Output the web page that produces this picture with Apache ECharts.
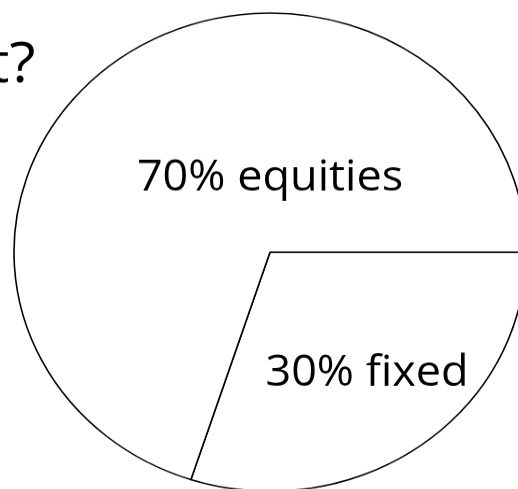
<!DOCTYPE html>
<html>
<head>
<meta charset="utf-8">
<script src="https://cdn.jsdelivr.net/npm/echarts@6/dist/echarts.min.js"></script>
<style>
  html, body { margin: 0; padding: 0; overflow: hidden; background: #fff; }
  /* the slide pie is a slightly flattened ellipse, squash the canvas a bit */
  #chart { width: 518px; height: 524px; transform: scaleY(0.934); transform-origin: 0 0; }
</style>
</head>
<body>
<div id="chart"></div>
<script>
var names = ['fixed', 'equities']
var shares = [30, 70]
var titleText = 't?'

var chart = echarts.init(document.getElementById('chart'))
var labelShift = [[20, 24], [77, 27]]
var option = {
  animation: false,
  backgroundColor: '#fff',
  title: {
    text: titleText,
    left: -17,
    top: 36,
    textStyle: {
      fontFamily: 'Open Sans',
      fontWeight: 'normal',
      fontSize: 60,
      color: '#000'
    }
  },
  series: [
    {
      type: 'pie',
      center: [270, 270],
      radius: [0, 256],
      startAngle: 0,
      clockwise: true,
      silent: true,
      itemStyle: {
        color: '#fff',
        borderColor: '#000',
        borderWidth: 1.6
      },
      label: {
        show: true,
        position: 'inside',
        formatter: '{d}% {b}',
        fontFamily: 'Open Sans',
        fontSize: 45,
        color: '#000'
      },
      labelLayout: function (params) {
        var s = labelShift[params.dataIndex]
        return { dx: s[0], dy: s[1] }
      },
      labelLine: { show: false },
      data: names.map(function (n, i) {
        return { name: n, value: shares[i] }
      })
    }
  ]
}
chart.setOption(option)
</script>
</body>
</html>
